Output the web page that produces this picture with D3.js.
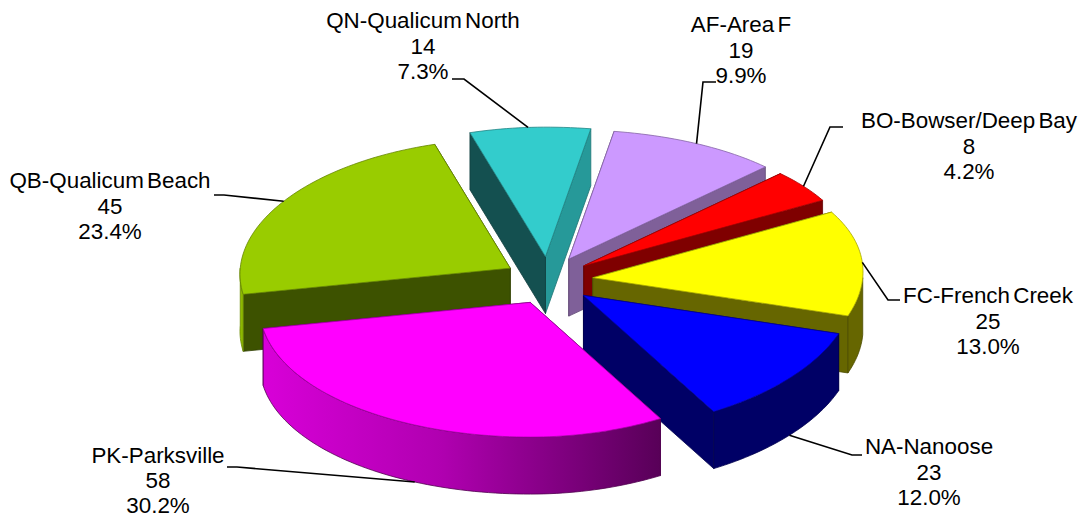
<!DOCTYPE html>
<html lang="en">
<head>
  <meta charset="UTF-8" />
  <title>3D exploded pie</title>
  <script src="https://d3js.org/d3.v7.min.js"></script>
  <style>
    html, body { margin: 0; padding: 0; background: #fff; overflow: hidden; }
    svg { display: block; }
    .label { font-family: "Liberation Sans", Arial, sans-serif; font-size: 22.4px; word-spacing: -3px; fill: #000; text-anchor: middle; }
    .leader { fill: none; stroke: #000; stroke-width: 1.6; }
  </style>
</head>
<body>
  <svg id="chart" width="1084" height="518"></svg>

  <script>
  // data, clockwise from the AF slice
  const codes = ["AF-Area F", "BO-Bowser/Deep Bay", "FC-French Creek", "NA-Nanoose", "PK-Parksville", "QB-Qualicum Beach", "QN-Qualicum North"];
  const counts = [19, 8, 25, 23, 58, 45, 14];
  const shares = ["9.9%", "4.2%", "13.0%", "12.0%", "30.2%", "23.4%", "7.3%"];

  // styles, same order as the data
  const topColors = ["#CC99FF", "#FF0000", "#FFFF00", "#0000FF", "#FF00FF", "#99CC00", "#33CCCC"];
  const startFace = ["#7F6099", "#7F0000", "#666600", "#000066", "#660066", "#3D5200", "#145050"];
  const endFace   = ["#7F6099", "#7F0000", "#666600", "#000066", "#660066", "#3D5200", "#269999"];
  const wallColor = ["#7F6099", "#7F0000", "#666600", "#000066", "url(#pkWall)", "#8DB800", "#269999"];

  // label box centres and where the leader line leaves the text
  const labelX = [741, 969, 988, 929, 158, 110, 423];
  const labelY = [32, 128, 303, 454, 463, 188, 28];
  const lineGap = [25.5, 25.5, 25.5, 25.5, 25, 25.5, 25.5];
  const leaderFrom = [[716, 82], [843, 127], [900, 300], [862, 455], [227, 467], [214, 195], [452, 79]];
  const leaderBend = [[703, 82], [830, 127], [888, 300], [852, 455], [237, 467], [224, 195], [464, 79]];

  const cx = 548.5, cy = 280.5, rx = 270, ryMid = 132, persp = 0.02, skew = 0.045;
  const depth = 57, explode = 0.165, explodeY = 145.5;
  const startAngle = 9.25 * Math.PI / 180;

  const svg = d3.select("#chart");
  const defs = svg.append("defs");

  const pie = d3.pie().sort(null).startAngle(startAngle).endAngle(startAngle + 2 * Math.PI);
  const arcs = pie(counts);

  // rim of the pie seen at an angle: deeper at the front, the back leans to the right
  function project(a) {
    const s = Math.sin(a), c = Math.cos(a);
    return [rx * (s + skew * Math.abs(s) * c), -ryMid * c / (1 + persp * c)];
  }
  function apexOf(d) {
    const mid = (d.startAngle + d.endAngle) / 2;
    return [cx + rx * explode * Math.sin(mid), cy - explodeY * explode * Math.cos(mid)];
  }
  function rimPoint(d, a, drop) {
    const o = apexOf(d), p = project(a);
    return [o[0] + p[0], o[1] + p[1] + (drop || 0)];
  }
  function rim(d, a0, a1, drop) {
    const n = Math.max(2, Math.ceil((a1 - a0) * 40));
    return d3.range(n + 1).map(i => rimPoint(d, a0 + (a1 - a0) * i / n, drop));
  }

  const line = d3.line();
  const closed = pts => line(pts) + "Z";

  const pkArc = arcs[4];
  defs.append("linearGradient").attr("id", "pkWall")
      .attr("gradientUnits", "userSpaceOnUse")
      .attr("x1", rimPoint(pkArc, pkArc.endAngle)[0]).attr("x2", rimPoint(pkArc, pkArc.startAngle)[0])
      .attr("y1", 0).attr("y2", 0)
      .selectAll("stop")
      .data([[0, "#D800D8"], [0.45, "#B000B0"], [0.75, "#800080"], [1, "#580058"]])
      .join("stop")
      .attr("offset", d => d[0])
      .attr("stop-color", d => d[1]);

  // painter's order: back slices first
  const drawOrder = [6, 0, 5, 1, 2, 3, 4];

  const g = svg.append("g");
  drawOrder.forEach(i => {
    const d = arcs[i];
    const o = apexOf(d);
    const low = [o[0], o[1] + depth];
    const slice = g.append("g").attr("stroke-width", 0.8).attr("stroke-linejoin", "round");
    const face = (a, fill) => {
      const p = rimPoint(d, a), q = rimPoint(d, a, depth);
      slice.append("path").attr("d", closed([o, p, q, low]))
           .attr("fill", fill).attr("stroke", d3.color(fill).darker(0.8));
    };
    // the radial face further back goes down first
    [[d.startAngle, startFace[i]], [d.endAngle, endFace[i]]]
      .sort((a, b) => rimPoint(d, a[0])[1] - rimPoint(d, b[0])[1])
      .forEach(f => face(f[0], f[1]));

    // outer wall, only the part turned to the viewer
    const a0 = Math.max(d.startAngle, Math.PI / 2), a1 = Math.min(d.endAngle, 3 * Math.PI / 2);
    if (a1 > a0) {
      const up = rim(d, a0, a1), down = rim(d, a0, a1, depth).reverse();
      slice.append("path").attr("d", closed(up.concat(down)))
           .attr("fill", wallColor[i])
           .attr("stroke", i === 4 ? "#50004f" : d3.color(wallColor[i]).darker(0.8));
    }

    slice.append("path")
         .attr("d", closed([o].concat(rim(d, d.startAngle, d.endAngle))))
         .attr("fill", topColors[i])
         .attr("stroke", d3.color(topColors[i]).darker(1.2));
  });

  // leader lines end on the rim at the middle of the slice
  arcs.forEach((d, i) => {
    const mid = (d.startAngle + d.endAngle) / 2;
    const front = Math.cos(mid) < -0.3 && Math.abs(Math.sin(mid)) < 0.85;
    const end = rimPoint(d, mid, front ? depth : 0);
    svg.append("path").attr("class", "leader")
       .attr("d", line([leaderFrom[i], leaderBend[i], end]));
  });

  const labels = svg.append("g").selectAll("text").data(arcs).join("text")
      .attr("class", "label")
      .attr("x", (d, i) => labelX[i])
      .attr("y", (d, i) => labelY[i]);
  labels.append("tspan").attr("x", (d, i) => labelX[i]).text((d, i) => codes[i]);
  labels.append("tspan").attr("x", (d, i) => labelX[i]).attr("dy", (d, i) => lineGap[i]).text((d, i) => counts[i]);
  labels.append("tspan").attr("x", (d, i) => labelX[i]).attr("dy", (d, i) => lineGap[i]).text((d, i) => shares[i]);
  </script>
</body>
</html>
